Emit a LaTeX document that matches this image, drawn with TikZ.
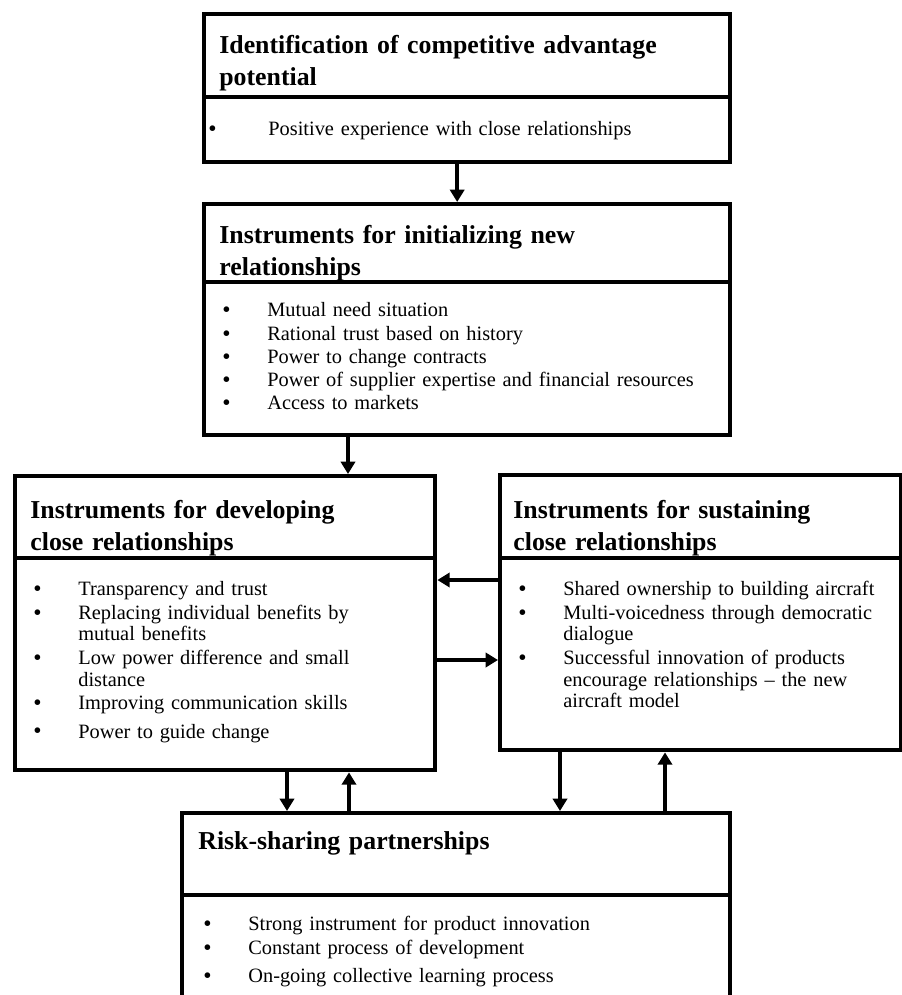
\documentclass[tikz,border=0pt]{standalone}
\usepackage{fontspec}
\setmainfont{Liberation Serif}
\usepackage{enumitem}
\usetikzlibrary{arrows.meta,positioning,calc}

\newcommand{\headfont}{\fontsize{14.2}{17.6}\selectfont\bfseries}
\newcommand{\bodyfont}{\fontsize{11.2}{12}\selectfont}
\newcommand{\jline}[1]{\makebox[154.5pt][s]{#1}}
\newcommand{\bigdot}{\smash{\raisebox{-0.5pt}{\fontsize{13}{13}\selectfont\textbullet}}}
\newenvironment{blist}[1][24.75pt]{%
  \begin{itemize}[leftmargin=#1,labelwidth=#1,labelsep=0pt,labelindent=0pt,align=left,
    label=\bigdot,topsep=0pt,partopsep=0pt,parsep=0pt,itemsep=0.8pt]}{\end{itemize}}

\tikzset{
  boxframe/.style={draw, line width=2.4pt, inner sep=0pt, anchor=north west},
  divline/.style={line width=2.4pt},
  headtext/.style={anchor=base west, inner sep=0pt, text width=#1, align=left, font=\headfont},
  listtext/.style={anchor=base west, inner sep=0pt, text width=#1, align=left, font=\bodyfont},
  arr/.style={line width=2.4pt, -{Triangle[length=6.8pt,width=7.8pt]}},
}

\begin{document}
\begin{tikzpicture}[x=0.55pt,y=-0.55pt]
\useasboundingbox (0,0) rectangle (902,995);

\node[boxframe, minimum width=289.3pt, minimum height=81.4pt] (ident) at (202,12) {};
\node[boxframe, minimum width=289.3pt, minimum height=127.05pt] (init) at (202,202) {};
\node[boxframe, minimum width=231pt, minimum height=161.7pt] (dev) at (13,474) {};
\node[boxframe, minimum width=220.55pt, minimum height=151.25pt] (sus) at (498,473) {};
\node[boxframe, minimum width=301.4pt, minimum height=143pt] (risk) at (180,811) {};

\draw[divline] ($(ident.north west)+(0,85)$) -- ($(ident.north east)+(0,85)$);
\draw[divline] ($(init.north west)+(0,80)$) -- ($(init.north east)+(0,80)$);
\draw[divline] ($(dev.north west)+(0,84)$) -- ($(dev.north east)+(0,84)$);
\draw[divline] ($(sus.north west)+(0,85)$) -- ($(sus.north east)+(0,85)$);
\draw[divline] ($(risk.north west)+(0,84)$) -- ($(risk.north east)+(0,84)$);

\node[headtext=275pt] (identhd) at ($(ident.north west)+(17,41)$)
  {Identification of competitive advantage\\potential};
\node[listtext=280pt] (identls) at ($(ident.north west)+(6,102)$) {%
  \begin{blist}[33pt]
    \item Positive experience with close relationships
  \end{blist}};

\node[headtext=275pt] (inithd) at ($(init.north west)+(17,41)$)
  {Instruments for initializing new\\relationships};
\node[listtext=280pt] (initls) at ($(init.north west)+(20,93)$) {%
  \begin{blist}
    \item Mutual need situation
    \item Rational trust based on history
    \item Power to change contracts
    \item Power of supplier expertise and financial resources
    \item Access to markets
  \end{blist}};

\node[headtext=220pt] (devhd) at ($(dev.north west)+(17,44)$)
  {Instruments for developing\\close relationships};
\node[listtext=220pt] (devls) at ($(dev.north west)+(20,100)$) {%
  \begin{blist}
    \item Transparency and trust
    \item Replacing individual benefits by\newline mutual benefits
    \item Low power difference and small\newline distance
    \item Improving communication skills
    \vspace{3pt}
    \item Power to guide change
  \end{blist}};

\node[headtext=215pt] (sushd) at ($(sus.north west)+(15,45)$)
  {Instruments for sustaining\\close relationships};
\node[listtext=205pt] (susls) at ($(sus.north west)+(20,101)$) {%
  \begin{blist}
    \item Shared ownership to building aircraft
    \item Multi-voicedness through democratic\newline dialogue
    \item \jline{Successful innovation of products}\newline
          \jline{encourage relationships -- the new}\newline
          aircraft model
  \end{blist}};

\node[headtext=280pt] (riskhd) at ($(risk.north west)+(18,38)$)
  {Risk-sharing partnerships};
\node[listtext=280pt] (riskls) at ($(risk.north west)+(23,98)$) {%
  \begin{blist}
    \item Strong instrument for product innovation
    \item Constant process of development
    \vspace{3pt}
    \item On-going collective learning process
  \end{blist}};

\coordinate (a1) at ($(ident.south)+(-10,0)$);
\coordinate (a2) at ($(dev.north west)+(335,0)$);
\coordinate (a3) at ($(sus.north west)+(0,107)$);
\coordinate (a4) at ($(dev.north east)+(0,186)$);
\coordinate (a5) at ($(dev.south west)+(274,0)$);
\coordinate (a6) at ($(dev.south west)+(336,0)$);
\coordinate (a7) at ($(sus.south west)+(62,0)$);
\coordinate (a8) at ($(sus.south west)+(167,0)$);

\draw[arr] (a1) -- (a1 |- init.north);
\draw[arr] (a2 |- init.south) -- (a2);
\draw[arr] (a3) -- (a3 -| dev.east);
\draw[arr] (a4) -- (a4 -| sus.west);
\draw[arr] (a5) -- (a5 |- risk.north);
\draw[arr] (a6 |- risk.north) -- (a6);
\draw[arr] (a7) -- (a7 |- risk.north);
\draw[arr] (a8 |- risk.north) -- (a8);
\end{tikzpicture}
\end{document}
